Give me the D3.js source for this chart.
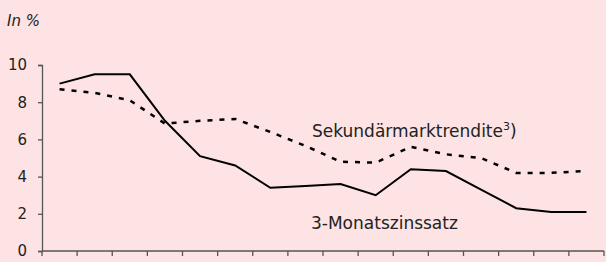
<!DOCTYPE html>
<html>
<head>
<meta charset="utf-8">
<script src="https://cdn.jsdelivr.net/npm/d3@7"></script>
<style>
  body { margin: 0; background: #fde3e3; }
  svg { display: block; font-family: "DejaVu Sans", sans-serif; }
</style>
</head>
<body>
<svg width="606" height="262"></svg>
<script>
// 16 periods, no labels on the x axis
const periods = d3.range(16).map(i => "p" + i);
const monatszins = [9.0, 9.5, 9.5, 7.0, 5.1, 4.6, 3.4, 3.5, 3.6, 3.0, 4.4, 4.3, 3.3, 2.3, 2.1, 2.1];
const rendite = [8.7, 8.5, 8.1, 6.85, 7.0, 7.1, 6.4, 5.65, 4.8, 4.75, 5.6, 5.2, 5.0, 4.2, 4.2, 4.3];
const yTicks = [0, 2, 4, 6, 8, 10];

const svg = d3.select("svg");
const margin = {left: 42, right: 2, top: 65, bottom: 11};
const width = 606, height = 262;

svg.append("rect").attr("width", width).attr("height", height).attr("fill", "#fde3e3");

const x = d3.scaleBand()
    .domain(periods)
    .range([margin.left, width - margin.right]);

const y = d3.scaleLinear()
    .domain([0, 10])
    .range([height - margin.bottom, margin.top]);

// y axis
const yAxis = svg.append("g")
    .attr("transform", `translate(${margin.left},0)`)
    .call(d3.axisLeft(y).tickValues(yTicks).tickSize(4).tickPadding(11));
yAxis.select(".domain").attr("stroke", "#555").attr("stroke-width", 1.3);
yAxis.selectAll(".tick line").attr("stroke", "#555").attr("stroke-width", 1.3);
yAxis.selectAll("text")
    .attr("fill", "#222")
    .style("font-size", "15px")
    .style("font-family", "DejaVu Sans, sans-serif");

// x axis, ticks on band edges
const xAxis = svg.append("g")
    .attr("transform", `translate(0,${y(0)})`);
xAxis.append("line")
    .attr("x1", margin.left).attr("x2", width - margin.right)
    .attr("stroke", "#555").attr("stroke-width", 1.3);
const edges = periods.map(p => x(p)).concat([x(periods[periods.length - 1]) + x.bandwidth()]);
xAxis.selectAll(".xt")
    .data(edges)
    .enter().append("line")
    .attr("class", "xt")
    .attr("x1", d => d).attr("x2", d => d)
    .attr("y1", 0).attr("y2", 5)
    .attr("stroke", "#555").attr("stroke-width", 1.3);

const line = d3.line()
    .x((d, i) => x(periods[i]) + x.bandwidth() / 2)
    .y(d => y(d));

svg.append("path")
    .datum(rendite)
    .attr("fill", "none")
    .attr("stroke", "#000")
    .attr("stroke-width", 2.5)
    .attr("stroke-dasharray", "5,7")
    .attr("d", line);

svg.append("path")
    .datum(monatszins)
    .attr("fill", "none")
    .attr("stroke", "#000")
    .attr("stroke-width", 2)
    .attr("stroke-linejoin", "miter")
    .attr("d", line);

// labels
svg.append("text")
    .attr("x", 7).attr("y", 26)
    .attr("fill", "#222")
    .style("font-size", "15px")
    .style("font-style", "italic")
    .text("In %");

const lbl1 = svg.append("text")
    .attr("x", 312).attr("y", 137)
    .attr("fill", "#222")
    .style("font-size", "17px")
    .text("Sekundärmarktrendite");
lbl1.append("tspan")
    .attr("dy", -7)
    .style("font-size", "11px")
    .text("3");
lbl1.append("tspan")
    .attr("dy", 7)
    .text(")");

svg.append("text")
    .attr("x", 311).attr("y", 229)
    .attr("fill", "#222")
    .style("font-size", "17px")
    .text("3-Monatszinssatz");
</script>
</body>
</html>
